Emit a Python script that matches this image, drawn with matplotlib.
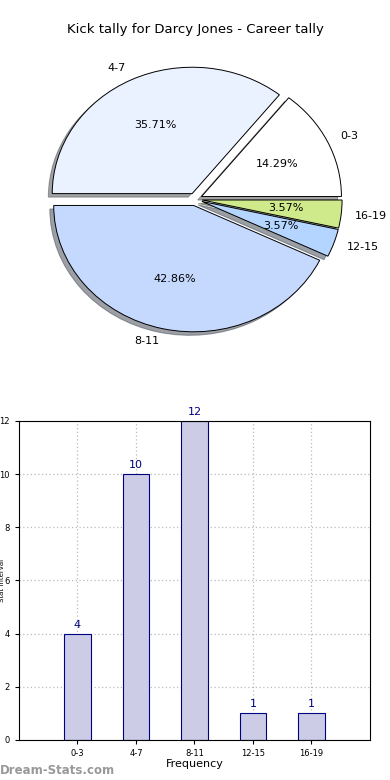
import numpy as np
import matplotlib.pyplot as plt

# kick tally data
groups = ["0-3", "4-7", "8-11", "12-15", "16-19"]
counts = [4, 10, 12, 1, 1]
pie_colors = ["#FFFFFF", "#EAF1FF", "#C5D9FF", "#B3D5FF", "#CEEA8A"]

fig = plt.figure(figsize=(3.9, 7.8), dpi=100)
fig.text(0.5, 0.962, "Kick tally for Darcy Jones - Career tally", ha="center", va="center", fontsize=9.5)

# pie
ax1 = fig.add_axes([0.052, 0.542, 0.897, 0.405])
ax1.pie(counts, labels=groups, colors=pie_colors, autopct="%.2f%%",
        explode=[0.05] * 5, shadow=True, startangle=0,
        wedgeprops=dict(edgecolor="black", linewidth=0.7),
        textprops=dict(fontsize=8))
ax1.set_aspect("auto")
ax1.set_xlim(-1.25, 1.25)
ax1.set_ylim(-1.25, 1.25)

# bars
ax2 = fig.add_axes([0.0487, 0.0513, 0.9, 0.409])
x = np.arange(len(groups))
ax2.bar(x, counts, width=0.45, color="#CCCCE6", edgecolor="navy", linewidth=0.8, zorder=2)
for xi, c in zip(x, counts):
    ax2.text(xi, c + 0.15, str(c), ha="center", va="bottom", color="navy", fontsize=8)
ax2.set_xlim(-1, 5)
ax2.set_ylim(0, 12)
ax2.set_xticks(x)
ax2.set_xticklabels(groups)
ax2.set_yticks(range(0, 13, 2))
ax2.tick_params(labelsize=6, length=3)
ax2.grid(True, linestyle=(0, (1, 2)), color="#bbbbbb", linewidth=0.9, zorder=0)
ax2.set_xlabel("Frequency", fontsize=8, labelpad=1)
ax2.set_ylabel("Stat Interval", fontsize=5)
ax2.yaxis.set_label_coords(-0.041, 0.5)

fig.text(0.0, 0.012, "Dream-Stats.com", color="#999999", fontsize=8.5, fontweight="bold", ha="left", va="center")

fig.savefig("out.png", dpi=100)
